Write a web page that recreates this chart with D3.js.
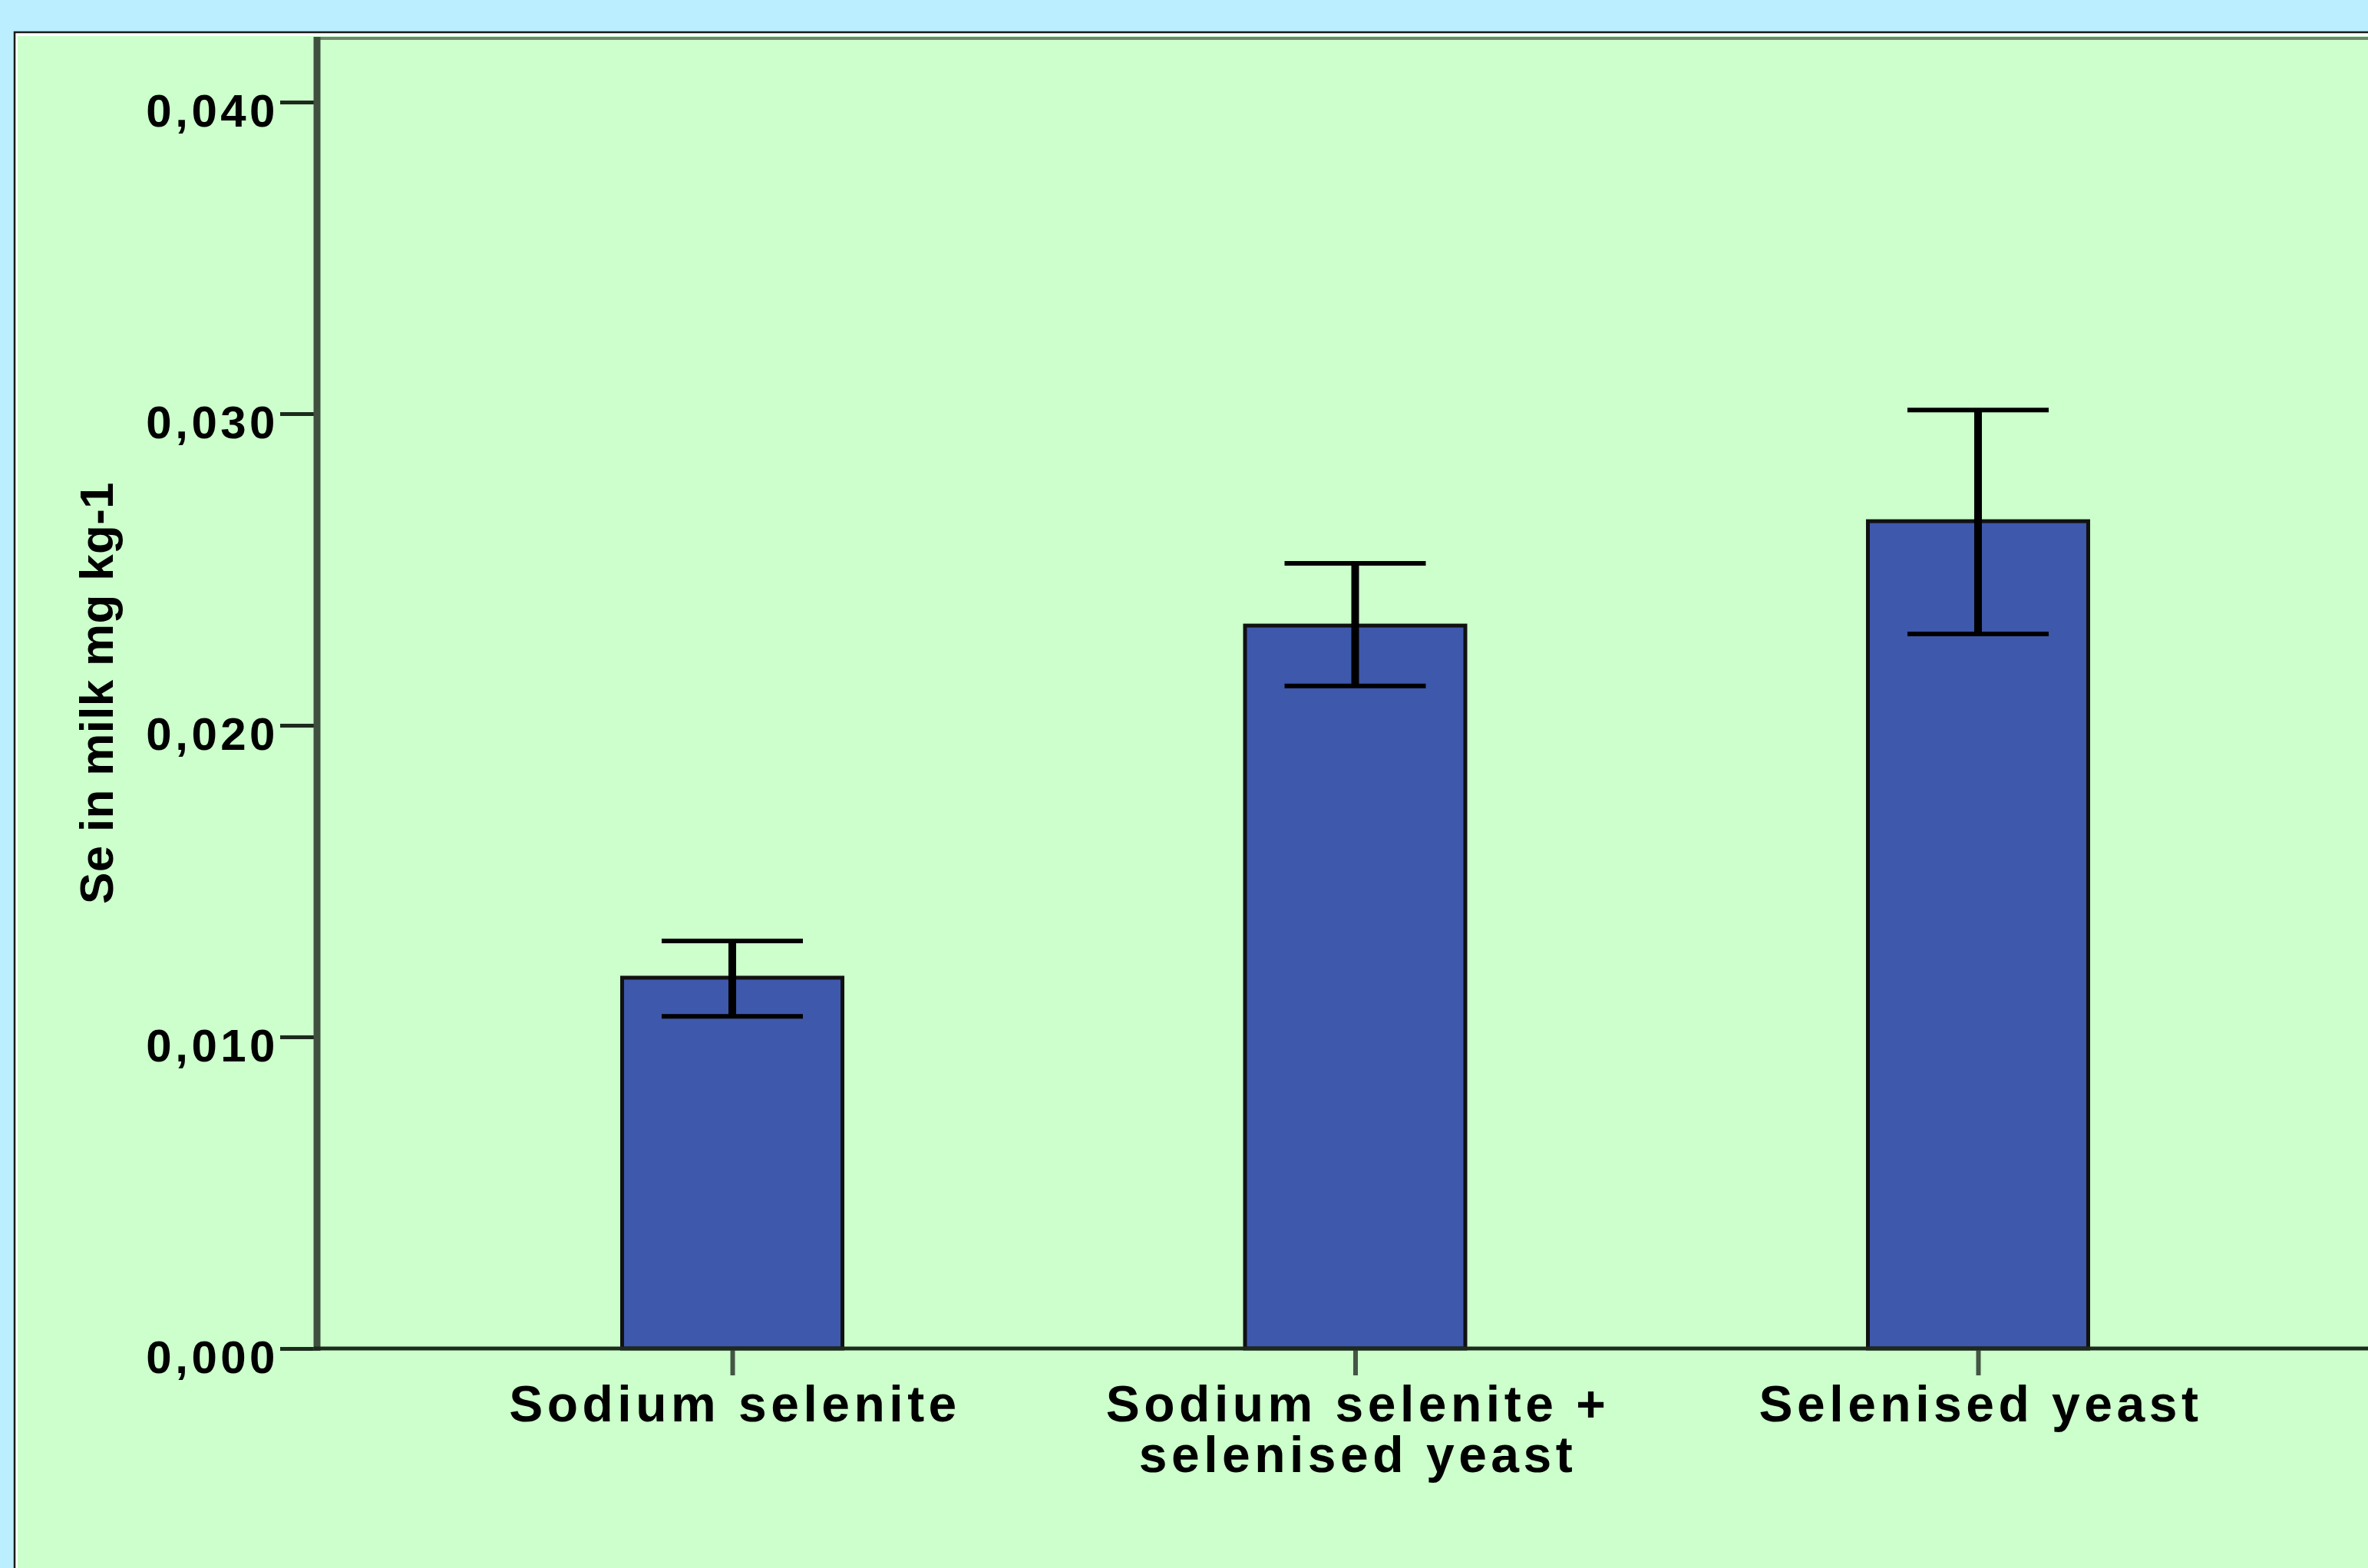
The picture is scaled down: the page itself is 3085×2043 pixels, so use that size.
<!DOCTYPE html>
<html>
<head>
    <meta charset="utf-8">
    <title>Se in milk</title>
    <script src="https://cdn.jsdelivr.net/npm/d3@7"></script>
    <style>
        html, body { margin: 0; padding: 0; background: #bbeeff; overflow: hidden; }
        text { font-family: "Liberation Sans", Arial, sans-serif; font-weight: bold; fill: #000; }
    </style>
</head>
<body>
    <div id="chart"></div>
    <script>
        var width = 3085,
            height = 2043;

        // data
        var categories = ["Sodium selenite", "Sodium selenite + selenised yeast", "Selenised yeast"];
        var catLines = [["Sodium selenite"], ["Sodium selenite +", "selenised yeast"], ["Selenised yeast"]];
        var means = [0.0119, 0.0232, 0.02655];
        var errLow = [0.01066, 0.02126, 0.02293];
        var errHigh = [0.01308, 0.02520, 0.03012];
        var yTicks = [0.000, 0.010, 0.020, 0.030, 0.040];
        var yTitle = "Se in milk mg kg-1";

        var axisX = 413, axisY = 1757;

        var svg = d3.select("#chart").append("svg")
            .attr("width", width)
            .attr("height", height);

        // outer frame
        svg.append("rect").attr("x", 0).attr("y", 0).attr("width", width).attr("height", height).attr("fill", "#bbeeff");
        svg.append("rect").attr("x", 19).attr("y", 42).attr("width", width).attr("height", height)
            .attr("fill", "#ffffff").attr("stroke", "#1a1a1a").attr("stroke-width", 2.5);
        svg.append("rect").attr("x", 23).attr("y", 47).attr("width", width).attr("height", height)
            .attr("fill", "#ccffcc");

        var y = d3.scaleLinear().domain([0, 0.04]).range([axisY, 133]);
        var x = d3.scalePoint().domain(categories).range([axisX, 3118]).padding(0.6667);

        // top frame line of the plot area
        svg.append("line").attr("x1", axisX).attr("x2", width).attr("y1", 50).attr("y2", 50)
            .attr("stroke", "#6f846f").attr("stroke-width", 4);

        // bars
        var barW = 287;
        svg.selectAll("rect.bar").data(means).enter().append("rect")
            .attr("class", "bar")
            .attr("x", function(d, i){ return x(categories[i]) - barW / 2; })
            .attr("y", function(d){ return y(d); })
            .attr("width", barW)
            .attr("height", function(d){ return y(0) - y(d); })
            .attr("fill", "#3e58ab")
            .attr("stroke", "#111")
            .attr("stroke-width", 5);

        // error bars
        var capW = 184;
        var eg = svg.selectAll("g.err").data(means).enter().append("g").attr("class", "err");
        eg.append("line")
            .attr("x1", function(d, i){ return x(categories[i]); })
            .attr("x2", function(d, i){ return x(categories[i]); })
            .attr("y1", function(d, i){ return y(errHigh[i]); })
            .attr("y2", function(d, i){ return y(errLow[i]); })
            .attr("stroke", "#000").attr("stroke-width", 10);
        [errHigh, errLow].forEach(function(arr){
            eg.append("line")
                .attr("x1", function(d, i){ return x(categories[i]) - capW / 2; })
                .attr("x2", function(d, i){ return x(categories[i]) + capW / 2; })
                .attr("y1", function(d, i){ return y(arr[i]); })
                .attr("y2", function(d, i){ return y(arr[i]); })
                .attr("stroke", "#000").attr("stroke-width", 6);
        });

        // y axis
        var gy = svg.append("g").attr("transform", "translate(" + axisX + ",0)")
            .call(d3.axisLeft(y).tickValues(yTicks).tickSize(48).tickPadding(2)
                .tickFormat(function(d){ return d.toFixed(3).replace(".", ","); }));
        gy.select(".domain").remove();
        gy.selectAll(".tick line").attr("stroke", "#1c2a1c").attr("stroke-width", 5);
        gy.selectAll(".tick text")
            .attr("font-size", 60)
            .attr("dy", "0.52em")
            .style("letter-spacing", "4.5px")
            .attr("font-family", null);
        svg.append("line").attr("x1", axisX).attr("x2", axisX).attr("y1", 48).attr("y2", axisY + 3)
            .attr("stroke", "#3f503f").attr("stroke-width", 9);

        // x axis
        var gx = svg.append("g").attr("transform", "translate(0," + axisY + ")")
            .call(d3.axisBottom(x).tickSize(35).tickFormat(""));
        gx.select(".domain").remove();
        gx.selectAll(".tick line").attr("stroke", "#445544").attr("stroke-width", 6);
        gx.selectAll(".tick").append("text")
            .attr("text-anchor", "middle")
            .attr("font-size", 66)
            .style("letter-spacing", "5.5px")
            .attr("font-family", null)
            .each(function(d, i){
                var t = d3.select(this);
                catLines[i].forEach(function(line, j){
                    t.append("tspan").attr("x", 3).attr("y", 95 + j * 66).text(line);
                });
            });
        svg.append("line").attr("x1", axisX - 4).attr("x2", width).attr("y1", axisY).attr("y2", axisY)
            .attr("stroke", "#1c2a1c").attr("stroke-width", 5);

        // y title
        svg.append("text")
            .attr("transform", "translate(147,903) rotate(-90)")
            .attr("text-anchor", "middle")
            .attr("font-size", 62)
            .style("letter-spacing", "0.3px")
            .text(yTitle);
    </script>
</body>
</html>
